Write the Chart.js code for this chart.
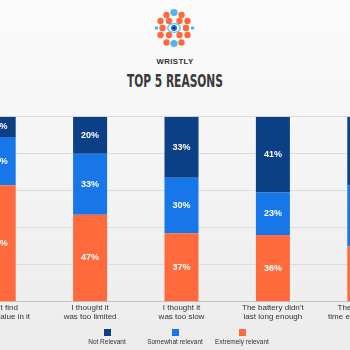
<!DOCTYPE html>
<html><head><meta charset="utf-8">
<script src="https://cdn.jsdelivr.net/npm/chart.js@4/dist/chart.umd.min.js"></script>
<style>
html,body{margin:0;padding:0;width:350px;height:350px;overflow:hidden;}
body{position:relative;background:linear-gradient(#fbfbfb,#ececec);font-family:"Liberation Sans",Arial,sans-serif;}
#logo{position:absolute;left:145px;top:0;}
.hd{position:absolute;left:0;width:350px;text-align:center;white-space:nowrap;}
#brand{top:50px;}
#brand span{display:inline-block;font:bold 8px/8px "Liberation Sans",Arial,sans-serif;color:#333;letter-spacing:0.4px;}
#title{top:72px;}
#title span{display:inline-block;font:bold 18px/18px "DejaVu Sans Condensed","DejaVu Sans",sans-serif;color:#3a3a3a;}
#chart{position:absolute;left:-47px;top:100px;}
.lg{position:absolute;top:329px;width:100px;text-align:center;font:6.5px/8px "Liberation Sans",Arial,sans-serif;color:#333;}
.lg i{display:block;width:7px;height:7px;margin:0 auto 2px auto;}
</style></head>
<body>
<canvas id="logo" width="60" height="50"></canvas>
<div class="hd" id="brand"><span>WRISTLY</span></div>
<div class="hd" id="title"><span>TOP 5 REASONS</span></div>
<canvas id="chart" width="457" height="250"></canvas>
<div id="legend"></div>
<script>
const categories = [
  ["I didn't find","enough value in it"],
  ["I thought it","was too limited"],
  ["I thought it","was too slow"],
  ["The battery didn\u2019t","last long enough"],
  ["The trial period","time ended too soon"]
];
const notRelevant = [11, 20, 33, 41, 37];
const somewhatRelevant = [26, 33, 30, 23, 33];
const extremelyRelevant = [63, 47, 37, 36, 30];
const yTicks = [0, 20, 40, 60, 80, 100];
const seriesNames = ["Not Relevant", "Somewhat relevant", "Extremely relevant"];
const seriesColors = ["#0c4086", "#1877e8", "#ff6a3d"];

// fit header texts
function fitWidth(sel, w, sy){
  const s=document.querySelector(sel);
  const r=s.getBoundingClientRect().width;
  s.style.transform='scaleX('+(w/r)+')';
}
fitWidth('#title span',96);
fitWidth('#brand span',37);

// logo (decorative)
(function(){
  const c=document.getElementById('logo').getContext('2d');
  const ox=145, oy=0;
  function dot(x,y,r,col){c.beginPath();c.arc(x-ox,y-oy,r,0,Math.PI*2);c.fillStyle=col;c.fill();}
  const O='#ff6a3d', B='#4ab7f2';
  dot(174,12.5,3.6,B); dot(174,43.5,3.6,B);
  dot(156.5,28,1.8,B); dot(192.5,28,1.8,B);
  [[166.5,15],[181.5,15],[160.5,21],[169,21],[179.5,21],[187.5,21],[162.5,28],[186,28],
   [160.5,35],[169,35],[179.5,35],[187.5,35],[166.5,42.5],[181.5,42.5]].forEach(p=>dot(p[0],p[1],3.2,O));
  c.beginPath();c.ellipse(174-ox,28,7,5,0,0,Math.PI*2);c.fillStyle='#5cc2f7';c.fill();
  c.beginPath();c.ellipse(174-ox,28,5.5,3.8,0,0,Math.PI*2);c.fillStyle='#ffffff';c.fill();
  dot(174,28,3,'#1f6fd6'); dot(174,28,1.3,'#0b2f66');
})();

// legend
(function(){
  const lg=document.getElementById('legend');
  const centers=[107,175,242];
  seriesNames.forEach((n,i)=>{
    const d=document.createElement('div');d.className='lg';
    d.style.left=(centers[i]-50)+'px';
    d.innerHTML='<i style="background:'+seriesColors[i]+'"></i>'+n;
    lg.appendChild(d);
  });
})();

const valueLabels={id:'valueLabels',afterDatasetsDraw(chart){
  const ctx=chart.ctx;ctx.save();
  ctx.font='bold 9px "Liberation Sans", Arial, sans-serif';
  ctx.fillStyle='#ffffff';ctx.textAlign='center';ctx.textBaseline='middle';
  chart.data.datasets.forEach((ds,i)=>{
    chart.getDatasetMeta(i).data.forEach((el,j)=>{
      const p=el.getProps(['x','y','base'],true);
      ctx.fillText(ds.data[j]+'%',p.x,(p.y+p.base)/2);
    });
  });
  ctx.restore();
}};

new Chart(document.getElementById('chart'),{
  type:'bar',
  data:{
    labels:categories,
    datasets:[
      {label:seriesNames[2],data:extremelyRelevant,backgroundColor:seriesColors[2]},
      {label:seriesNames[1],data:somewhatRelevant,backgroundColor:seriesColors[1]},
      {label:seriesNames[0],data:notRelevant,backgroundColor:seriesColors[0]}
    ]
  },
  options:{
    responsive:false,animation:false,
    datasets:{bar:{barPercentage:0.372,categoryPercentage:1,borderWidth:0}},
    layout:{padding:{top:16.7,left:0,right:0,bottom:0}},
    plugins:{legend:{display:false},tooltip:{enabled:false}},
    scales:{
      x:{stacked:true,
        grid:{display:false,drawTicks:false},
        border:{display:true,color:'#c4c4c4',width:1},
        ticks:{font:{family:'"Liberation Sans", Arial, sans-serif',size:8,lineHeight:1.125},color:'#333',padding:2,maxRotation:0,autoSkip:false},
        afterFit(s){s.height=48.3;}
      },
      y:{stacked:true,min:0,max:100,
        afterBuildTicks(s){s.ticks=yTicks.map(v=>({value:v}));},
        ticks:{display:false},
        grid:{color:'#dcdcdc',drawTicks:false},
        border:{display:false},
        afterFit(s){s.width=0;}
      }
    }
  },
  plugins:[valueLabels]
});
</script>
</body></html>
